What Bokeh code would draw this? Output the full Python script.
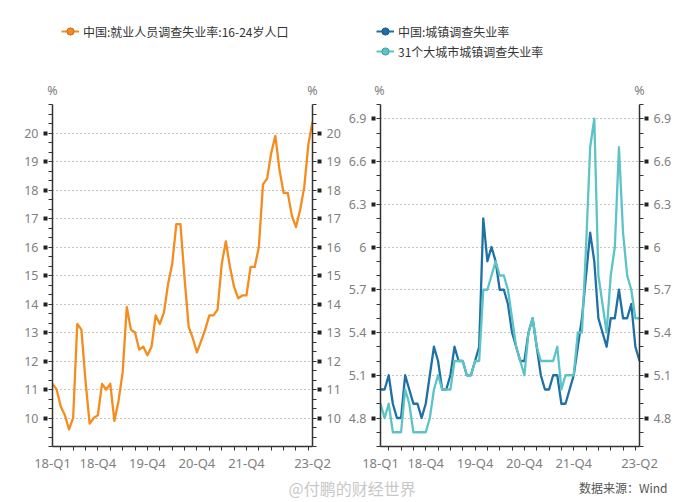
from bokeh.plotting import figure
from bokeh.models import Range1d, LinearAxis, FixedTicker, Label, Legend, LegendItem
from bokeh.layouts import column, row
from bokeh.core.properties import value
from bokeh.embed import file_html
from bokeh.resources import INLINE

# ---------------- data (monthly, 2018-01 .. 2023-04) ----------------
months = [f"{y}-{m:02d}" for y in range(2018, 2024) for m in range(1, 13)][:64]

youth = [11.2, 11.0, 10.4, 10.1, 9.6, 10.0, 13.3, 13.1, 11.3, 9.8, 10.0, 10.1,
         11.2, 11.0, 11.2, 9.9, 10.6, 11.6, 13.9, 13.1, 13.0, 12.4, 12.5, 12.2,
         12.5, 13.6, 13.3, 13.7, 14.7, 15.4, 16.8, 16.8, 14.9, 13.2, 12.8, 12.3,
         12.7, 13.1, 13.6, 13.6, 13.8, 15.4, 16.2, 15.3, 14.6, 14.2, 14.3, 14.3,
         15.3, 15.3, 16.0, 18.2, 18.4, 19.3, 19.9, 18.7, 17.9, 17.9, 17.1, 16.7,
         17.3, 18.1, 19.6, 20.4]

urban = [5.0, 5.0, 5.1, 4.9, 4.8, 4.8, 5.1, 5.0, 4.9, 4.9, 4.8, 4.9,
         5.1, 5.3, 5.2, 5.0, 5.0, 5.1, 5.3, 5.2, 5.2, 5.1, 5.1, 5.2,
         5.3, 6.2, 5.9, 6.0, 5.9, 5.7, 5.7, 5.6, 5.4, 5.3, 5.2, 5.2,
         5.4, 5.5, 5.3, 5.1, 5.0, 5.0, 5.1, 5.1, 4.9, 4.9, 5.0, 5.1,
         5.3, 5.5, 5.8, 6.1, 5.9, 5.5, 5.4, 5.3, 5.5, 5.5, 5.7, 5.5,
         5.5, 5.6, 5.3, 5.2]

city31 = [4.9, 4.8, 4.9, 4.7, 4.7, 4.7, 5.0, 4.9, 4.7, 4.7, 4.7, 4.7,
          4.8, 5.0, 5.1, 5.0, 5.0, 5.0, 5.2, 5.2, 5.2, 5.1, 5.1, 5.2,
          5.2, 5.7, 5.7, 5.8, 5.9, 5.8, 5.8, 5.7, 5.5, 5.3, 5.2, 5.1,
          5.4, 5.5, 5.3, 5.2, 5.2, 5.2, 5.2, 5.3, 5.0, 5.1, 5.1, 5.1,
          5.4, 5.4, 6.0, 6.7, 6.9, 5.8, 5.6, 5.4, 5.8, 6.0, 6.7, 6.1,
          5.8, 5.7, 5.5, 5.5]

name_youth = "中国:就业人员调查失业率:16-24岁人口"
name_urban = "中国:城镇调查失业率"
name_city31 = "31个大城市城镇调查失业率"

xtick_idx = [0, 11, 23, 35, 47, 63]
xtick_labels = ["18-Q1", "18-Q4", "19-Q4", "20-Q4", "21-Q4", "23-Q2"]
quarter_idx = [i for i, m in enumerate(months) if int(m[5:]) % 3 == 0]

left_yticks = [10, 11, 12, 13, 14, 15, 16, 17, 18, 19, 20]
left_ylabels = [str(v) for v in left_yticks]
left_yrange = (9, 21)

right_yticks = [4.8, 5.1, 5.4, 5.7, 6.0, 6.3, 6.6, 6.9]
right_ylabels = ["4.8", "5.1", "5.4", "5.7", "6", "6.3", "6.6", "6.9"]
right_yrange = (4.6, 7.0)

ORANGE = "#F58C1E"
DBLUE = "#1F70A5"
TEAL = "#5CC3C6"
LABEL_GRAY = "#7f7f7f"
NUM_FONT = "Noto Sans"
CJK_FONT = "Noto Sans CJK SC"

x = list(range(len(months)))

W = 690
HEAD_H = 98
CHART_H = 376
FOOT_H = 27


def style_yaxis(ax, ticks, labels, minor):
    ax.ticker = FixedTicker(ticks=ticks, minor_ticks=minor)
    ax.major_label_overrides = dict(zip(ticks, labels))
    ax.axis_line_color = "#333333"
    ax.axis_line_width = 1.5
    ax.major_tick_in = -5
    ax.major_tick_out = 9
    ax.major_tick_line_color = "#222222"
    ax.major_tick_line_width = 4
    ax.minor_tick_in = 0
    ax.minor_tick_out = 4
    ax.minor_tick_line_color = "#333333"
    ax.minor_tick_line_width = 1
    ax.major_label_standoff = 5
    ax.major_label_text_font = NUM_FONT
    ax.major_label_text_font_size = "12.5px"
    ax.major_label_text_color = LABEL_GRAY


def make_panel(series, colors, yrange, yticks, ylabels, minor, bl, br):
    p = figure(width=345, height=CHART_H, x_range=Range1d(0, len(months) - 1),
               y_range=Range1d(*yrange), output_backend="svg",
               toolbar_location=None, min_border_left=bl, min_border_right=br,
               min_border_top=6, min_border_bottom=25)
    p.outline_line_color = None
    p.xgrid.visible = False
    p.ygrid.ticker = FixedTicker(ticks=yticks)
    p.ygrid.grid_line_color = "#8c8c8c"
    p.ygrid.grid_line_dash = "1 3"
    p.ygrid.grid_line_width = 1

    xa = p.xaxis[0]
    xa.ticker = FixedTicker(ticks=xtick_idx, minor_ticks=quarter_idx)
    xa.major_label_overrides = dict(zip(xtick_idx, xtick_labels))
    xa.axis_line_color = "#333333"
    xa.axis_line_width = 1.5
    xa.major_tick_line_color = None
    xa.major_tick_in = 0
    xa.major_tick_out = 4
    xa.minor_tick_in = 0
    xa.minor_tick_out = 4
    xa.minor_tick_line_color = "#333333"
    xa.major_label_standoff = 3
    xa.major_label_text_font = NUM_FONT
    xa.major_label_text_font_size = "13px"
    xa.major_label_text_color = LABEL_GRAY

    style_yaxis(p.yaxis[0], yticks, ylabels, minor)
    ra = LinearAxis()
    style_yaxis(ra, yticks, ylabels, minor)
    p.add_layout(ra, "right")

    for s, c in zip(series, colors):
        p.line(x, s, line_color=c, line_width=2.3, line_join="round")
    return p


left_minor = [9 + k / 3 for k in range(37)]
right_minor = [round(4.6 + 0.1 * k, 2) for k in range(25)]

p1 = make_panel([youth], [ORANGE], left_yrange, left_yticks, left_ylabels,
                left_minor, 52, 33)
p2 = make_panel([urban, city31], [DBLUE, TEAL], right_yrange, right_yticks,
                right_ylabels, right_minor, 34, 51)

# ---------------- header: legends and % unit marks ----------------
head = figure(width=W, height=HEAD_H, x_range=Range1d(0, W), y_range=Range1d(0, HEAD_H),
              output_backend="svg", toolbar_location=None, min_border=0,
              x_axis_type=None, y_axis_type=None)
head.outline_line_color = None
head.xgrid.visible = False
head.ygrid.visible = False

for xpos in (52, 312, 379, 639):
    head.add_layout(Label(x=xpos, y=8, text="%", text_align="center",
                          text_baseline="middle", text_font=NUM_FONT,
                          text_font_size="12.5px", text_color=LABEL_GRAY))

NAN = float("nan")


def legend_for(names, colors, edges, loc):
    items = []
    for n, c, e in zip(names, colors, edges):
        r = head.line(x=[NAN], y=[NAN], line_color=c, line_width=2)
        d = head.scatter(x=[NAN], y=[NAN], marker="circle", size=8, fill_color=c,
                         line_color=e, line_width=1)
        items.append(LegendItem(label=value(n), renderers=[r, d]))
    lg = Legend(items=items, location=loc, orientation="vertical",
                padding=0, margin=0, spacing=0, glyph_width=18,
                glyph_height=20, label_height=20, label_standoff=4,
                border_line_color=None, background_fill_alpha=0,
                label_text_font=CJK_FONT, label_text_font_size="12px",
                label_text_color="#333333")
    head.add_layout(lg)


legend_for([name_youth], [ORANGE], ["#c8661a"], (61, 57))
legend_for([name_urban, name_city31], [DBLUE, TEAL], ["#17557e", "#3f9a9c"], (376, 37))

# ---------------- footer: watermark and source ----------------
foot = figure(width=W, height=FOOT_H, x_range=Range1d(0, W), y_range=Range1d(0, FOOT_H),
              output_backend="svg", toolbar_location=None, min_border=0,
              x_axis_type=None, y_axis_type=None)
foot.outline_line_color = None
foot.xgrid.visible = False
foot.ygrid.visible = False
foot.add_layout(Label(x=288, y=14, text="@付鹏的财经世界", text_align="left",
                      text_baseline="middle", text_font=CJK_FONT,
                      text_font_size="16px", text_color="#c8c8c8"))
foot.add_layout(Label(x=667, y=14, text="数据来源：Wind", text_align="right",
                      text_baseline="middle", text_font=CJK_FONT,
                      text_font_size="12px", text_color="#555555"))

layout = column(head, row(p1, p2), foot)
open("out.html", "w").write(file_html(layout, INLINE))
